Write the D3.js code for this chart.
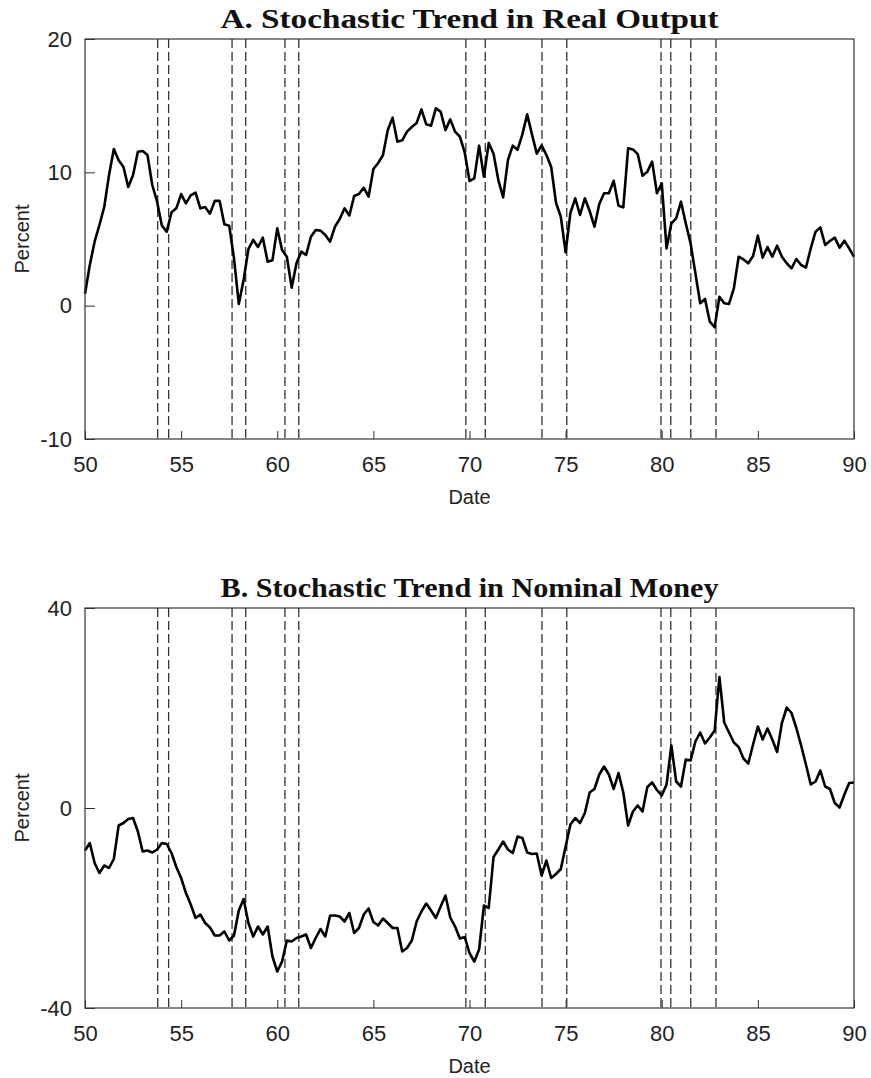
<!DOCTYPE html>
<meta charset="utf-8">
<style>
  body { margin: 0; background: #fff; }
  .tick text { font-family: "Liberation Sans", Arial, sans-serif; font-size: 22px; fill: #222; }
  .axis path.domain { display: none; }
  .axis line { stroke: #333; stroke-width: 1; }
  .frame { fill: none; stroke: #333; stroke-width: 1.2; }
  .trend { fill: none; stroke: #000; stroke-width: 2.6; stroke-linejoin: round; }
  .recession { stroke: #333; stroke-width: 1.3; stroke-dasharray: 9,4; }
  .title { font-family: "Liberation Serif", "Times New Roman", serif; font-weight: bold; font-size: 27px; fill: #111; }
  .label { font-family: "Liberation Sans", Arial, sans-serif; font-size: 20px; fill: #222; }
</style>
<body>
<script src="https://d3js.org/d3.v7.min.js"></script>
<script>

// quarterly values, 1950Q1 .. 1990Q1
var outputTrend = [
  0.9, 3.05, 4.8, 6.05, 7.4, 9.8, 11.75, 10.9, 10.4, 8.9,
  9.8, 11.55, 11.6, 11.3, 9.05, 7.8, 6.0, 5.55, 7.0, 7.3,
  8.37, 7.67, 8.27, 8.48, 7.3, 7.4, 6.9, 7.86, 7.86, 6.1,
  6.0, 3.55, 0.13, 1.93, 4.25, 4.93, 4.4, 5.1, 3.3, 3.4,
  5.8, 4.17, 3.67, 1.35, 3.18, 4.05, 3.8, 5.17, 5.67, 5.63,
  5.3, 4.8, 5.92, 6.5, 7.3, 6.77, 8.22, 8.37, 8.85, 8.17,
  10.25, 10.7, 11.3, 13.17, 14.1, 12.3, 12.4, 13.05, 13.4, 13.7,
  14.72, 13.6, 13.5, 14.8, 14.55, 13.17, 13.97, 13.05, 12.67, 11.5,
  9.35, 9.55, 12.0, 9.67, 12.2, 11.4, 9.42, 8.12, 10.92, 12.0,
  11.7, 12.85, 14.35, 12.85, 11.4, 12.02, 11.3, 10.4, 7.72, 6.67,
  4.0, 6.97, 8.05, 6.8, 8.05, 7.1, 5.92, 7.62, 8.43, 8.43,
  9.37, 7.5, 7.37, 11.8, 11.72, 11.37, 9.75, 10.05, 10.8, 8.43,
  9.17, 4.3, 6.17, 6.55, 7.8, 6.17, 4.67, 2.43, 0.18, 0.5,
  -1.2, -1.62, 0.67, 0.18, 0.13, 1.3, 3.67, 3.47, 3.18, 3.72,
  5.25, 3.6, 4.4, 3.67, 4.5, 3.67, 3.18, 2.8, 3.5, 3.05,
  2.85, 4.3, 5.55, 5.87, 4.55, 4.85, 5.1, 4.35, 4.87, 4.3,
  3.67
];

var moneyTrend = [
  -8.5, -7.0, -11.0, -13.0, -11.5, -12.0, -10.2, -3.5, -3.0, -2.2,
  -2.0, -4.7, -8.7, -8.5, -8.9, -8.3, -7.0, -7.2, -9.0, -11.8,
  -14.0, -17.0, -19.3, -22.0, -21.3, -23.0, -23.9, -25.5, -25.5, -24.7,
  -26.5, -25.5, -20.5, -18.2, -23.0, -25.7, -23.7, -25.3, -23.7, -29.7,
  -32.7, -30.7, -26.5, -26.7, -26.0, -25.7, -25.3, -28.0, -26.0, -24.2,
  -25.7, -21.5, -21.5, -21.7, -22.7, -21.0, -25.0, -24.0, -21.3, -20.1,
  -22.8, -23.5, -22.1, -23.0, -24.0, -24.0, -28.7, -28.0, -26.5, -22.7,
  -20.7, -19.1, -20.5, -22.0, -19.7, -17.5, -21.9, -23.7, -26.1, -25.8,
  -29.0, -30.7, -28.3, -19.5, -20.0, -9.8, -8.3, -6.7, -8.3, -9.0,
  -5.7, -6.0, -8.9, -9.2, -9.1, -13.5, -10.5, -14.0, -13.2, -12.2,
  -7.7, -3.3, -2.0, -3.0, -1.0, 3.1, 3.8, 6.7, 8.3, 6.7,
  3.8, 7.0, 3.1, -3.5, -0.7, 0.5, -0.7, 4.2, 5.1, 3.6,
  2.5, 4.7, 12.5, 5.3, 4.3, 9.7, 9.5, 13.3, 15.1, 12.9,
  14.1, 15.5, 26.2, 17.1, 15.1, 13.1, 12.2, 9.9, 8.9, 12.7,
  16.3, 13.7, 15.9, 13.7, 11.2, 17.0, 20.1, 19.0, 16.0, 12.5,
  8.7, 4.7, 5.3, 7.5, 4.3, 3.8, 1.0, 0.1, 2.7, 5.0,
  5.1
];

// business cycle peaks and troughs (dashed lines)
var recessionDates = [53.78, 54.35, 57.65, 58.36, 60.40, 61.12, 69.81, 70.82,
                      73.77, 75.06, 79.96, 80.47, 81.51, 82.82];

var xTicks = [50, 55, 60, 65, 70, 75, 80, 85, 90];
var outputTicks = [-10, 0, 10, 20];
var moneyTicks = [-40, 0, 40];

var quarters = d3.range(outputTrend.length).map(function(i) { return 50 + i / 4; });

var width = 871, height = 1078;
var left = 85, right = 854;

var svg = d3.select("body")
            .append("svg")
            .attr("width", width)
            .attr("height", height);

var x = d3.scaleLinear().domain([50, 90]).range([left, right]);

// plain hyphen for negatives, like the original figure
var plain = function(d) { return String(d); };

function panel(title, values, yDomain, yTicks, top, bottom) {

  var y = d3.scaleLinear().domain(yDomain).range([bottom, top]);
  var g = svg.append("g");

  // recession lines
  g.selectAll(".recession")
    .data(recessionDates)
    .enter().append("line")
    .attr("class", "recession")
    .attr("x1", function(d) { return x(d); })
    .attr("x2", function(d) { return x(d); })
    .attr("y1", top)
    .attr("y2", bottom);

  // axes, ticks pointing inward
  g.append("g")
    .attr("class", "axis")
    .attr("transform", "translate(0," + bottom + ")")
    .call(d3.axisBottom(x).tickValues(xTicks).tickFormat(plain).tickSize(-8).tickPadding(17));

  g.append("g")
    .attr("class", "axis")
    .attr("transform", "translate(" + left + ",0)")
    .call(d3.axisLeft(y).tickValues(yTicks).tickFormat(plain).tickSize(-10).tickPadding(13));

  var line = d3.line()
    .x(function(d, i) { return x(quarters[i]); })
    .y(function(d) { return y(d); });

  g.append("path")
    .datum(values)
    .attr("class", "trend")
    .attr("d", line);

  g.append("rect")
    .attr("class", "frame")
    .attr("x", left)
    .attr("y", top)
    .attr("width", right - left)
    .attr("height", bottom - top);

  g.append("text")
    .attr("class", "title")
    .attr("x", (left + right) / 2)
    .attr("y", top - 11)
    .attr("text-anchor", "middle")
    .attr("textLength", 498)
    .attr("lengthAdjust", "spacingAndGlyphs")
    .text(title);

  g.append("text")
    .attr("class", "label")
    .attr("x", (left + right) / 2)
    .attr("y", bottom + 65)
    .attr("text-anchor", "middle")
    .text("Date");

  g.append("text")
    .attr("class", "label")
    .attr("transform", "translate(29," + (top + bottom) / 2 + ") rotate(-90)")
    .attr("text-anchor", "middle")
    .text("Percent");
}

panel("A. Stochastic Trend in Real Output", outputTrend, [-10, 20], outputTicks, 39, 439);
panel("B. Stochastic Trend in Nominal Money", moneyTrend, [-40, 40], moneyTicks, 608, 1008);

</script>
</body>
</html>
